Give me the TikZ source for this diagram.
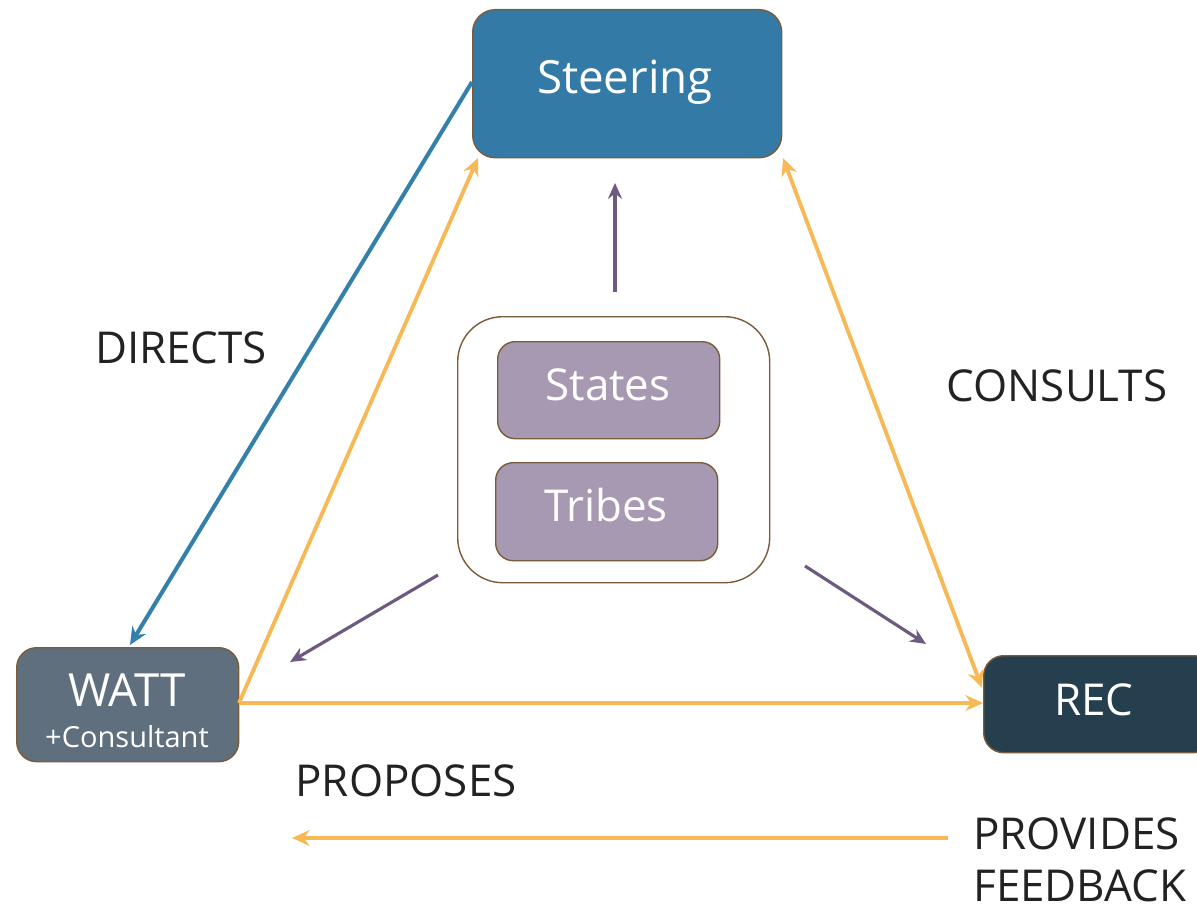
\documentclass[tikz,border=0pt]{standalone}
\usepackage{fontspec}
\setmainfont{Open Sans}
\usetikzlibrary{arrows.meta}
\definecolor{steer}{HTML}{337BA6}
\definecolor{watt}{HTML}{5F6F7D}
\definecolor{rec}{HTML}{253F4F}
\definecolor{purp}{HTML}{A899B3}
\definecolor{brd}{HTML}{7A5C3A}
\definecolor{orng}{HTML}{F7B955}
\definecolor{blu}{HTML}{3380AA}
\definecolor{parr}{HTML}{6E5A80}
\definecolor{txt}{HTML}{222222}
\begin{document}
\begin{tikzpicture}[x=0.02cm,y=-0.02cm,
  box/.style={draw=brd,line width=0.8pt,rounded corners=0.45cm,inner sep=0pt,anchor=north west},
  intext/.style={text=white,inner sep=0pt},
  lbl/.style={text=txt,font=\fontsize{25}{28}\selectfont,inner sep=0pt},
  oarr/.style={draw=orng,line width=2.2pt,-{Stealth[length=10pt,width=9pt]}},
  parrow/.style={draw=parr,line width=1.8pt,-{Stealth[length=9pt,width=8pt]}}]
\useasboundingbox (0,0) rectangle (1197,912);
\node[box,fill=steer,minimum width=309*0.02cm,minimum height=148*0.02cm] (steer) at (472,9) {};
\node[intext,font=\fontsize{26}{30}\selectfont] (steert) at (625,82) {Steering};
\node[box,fill=watt,minimum width=222*0.02cm,minimum height=114*0.02cm,rounded corners=0.4cm] (watt) at (16,647) {};
\node[intext,font=\fontsize{26}{28}\selectfont] (wattt) at (127,690) {WATT};
\node[intext,font=\fontsize{16.5}{18}\selectfont] (cons) at (127,737) {+Consultant};
\node[box,fill=rec,minimum width=230*0.02cm,minimum height=97*0.02cm,rounded corners=0.4cm] (rec) at (983,655) {};
\node[intext,font=\fontsize{25}{28}\selectfont] (rect) at (1094,700) {REC};
\node[box,fill=white,minimum width=312*0.02cm,minimum height=266*0.02cm,rounded corners=0.9cm] (grp) at (457,316) {};
\node[box,fill=purp,minimum width=222*0.02cm,minimum height=97*0.02cm,rounded corners=0.35cm] (states) at (497,341) {};
\node[intext,font=\fontsize{25}{28}\selectfont] (statest) at (608,385) {States};
\node[box,fill=purp,minimum width=222*0.02cm,minimum height=98*0.02cm,rounded corners=0.35cm] (tribes) at (495,462) {};
\node[intext,font=\fontsize{25}{28}\selectfont] (tribest) at (606,505) {Tribes};
% connectors
\coordinate (wr) at (239,703);
\coordinate (sl) at (472,82);
\coordinate (wt) at (130,645);
\coordinate (sbl) at (478,158);
\coordinate (sbr) at (783,158);
\coordinate (rl) at (983,703);
\coordinate (rla) at (982,688);
\draw[draw=blu,line width=2.3pt,-{Stealth[length=10pt,width=9pt]}] (sl) -- (wt);
\draw[oarr] (wr) -- (sbl);
\draw[oarr] (wr) -- (rl);
\draw[oarr,{Stealth[length=10pt,width=9pt]}-{Stealth[length=10pt,width=9pt]}] (rla) -- (sbr);
\coordinate (p1a) at (615,292); \coordinate (p1b) at (615,183);
\coordinate (p2a) at (438,575); \coordinate (p2b) at (290,662);
\coordinate (p3a) at (805,566); \coordinate (p3b) at (926,644);
\draw[parrow] (p1a) -- (p1b);
\draw[parrow] (p2a) -- (p2b);
\draw[parrow] (p3a) -- (p3b);
\coordinate (fa) at (948,838); \coordinate (fb) at (292,838);
\draw[oarr] (fa) -- (fb);
% labels
\node[lbl] (directs) at (181,348) {DIRECTS};
\node[lbl] (consults) at (1057,386) {CONSULTS};
\node[lbl] (proposes) at (406,781) {PROPOSES};
\node[lbl,anchor=west,align=left,font=\fontsize{25}{29.5}\selectfont] (prov) at (973,860) {PROVIDES\\FEEDBACK};
\end{tikzpicture}
\end{document}
